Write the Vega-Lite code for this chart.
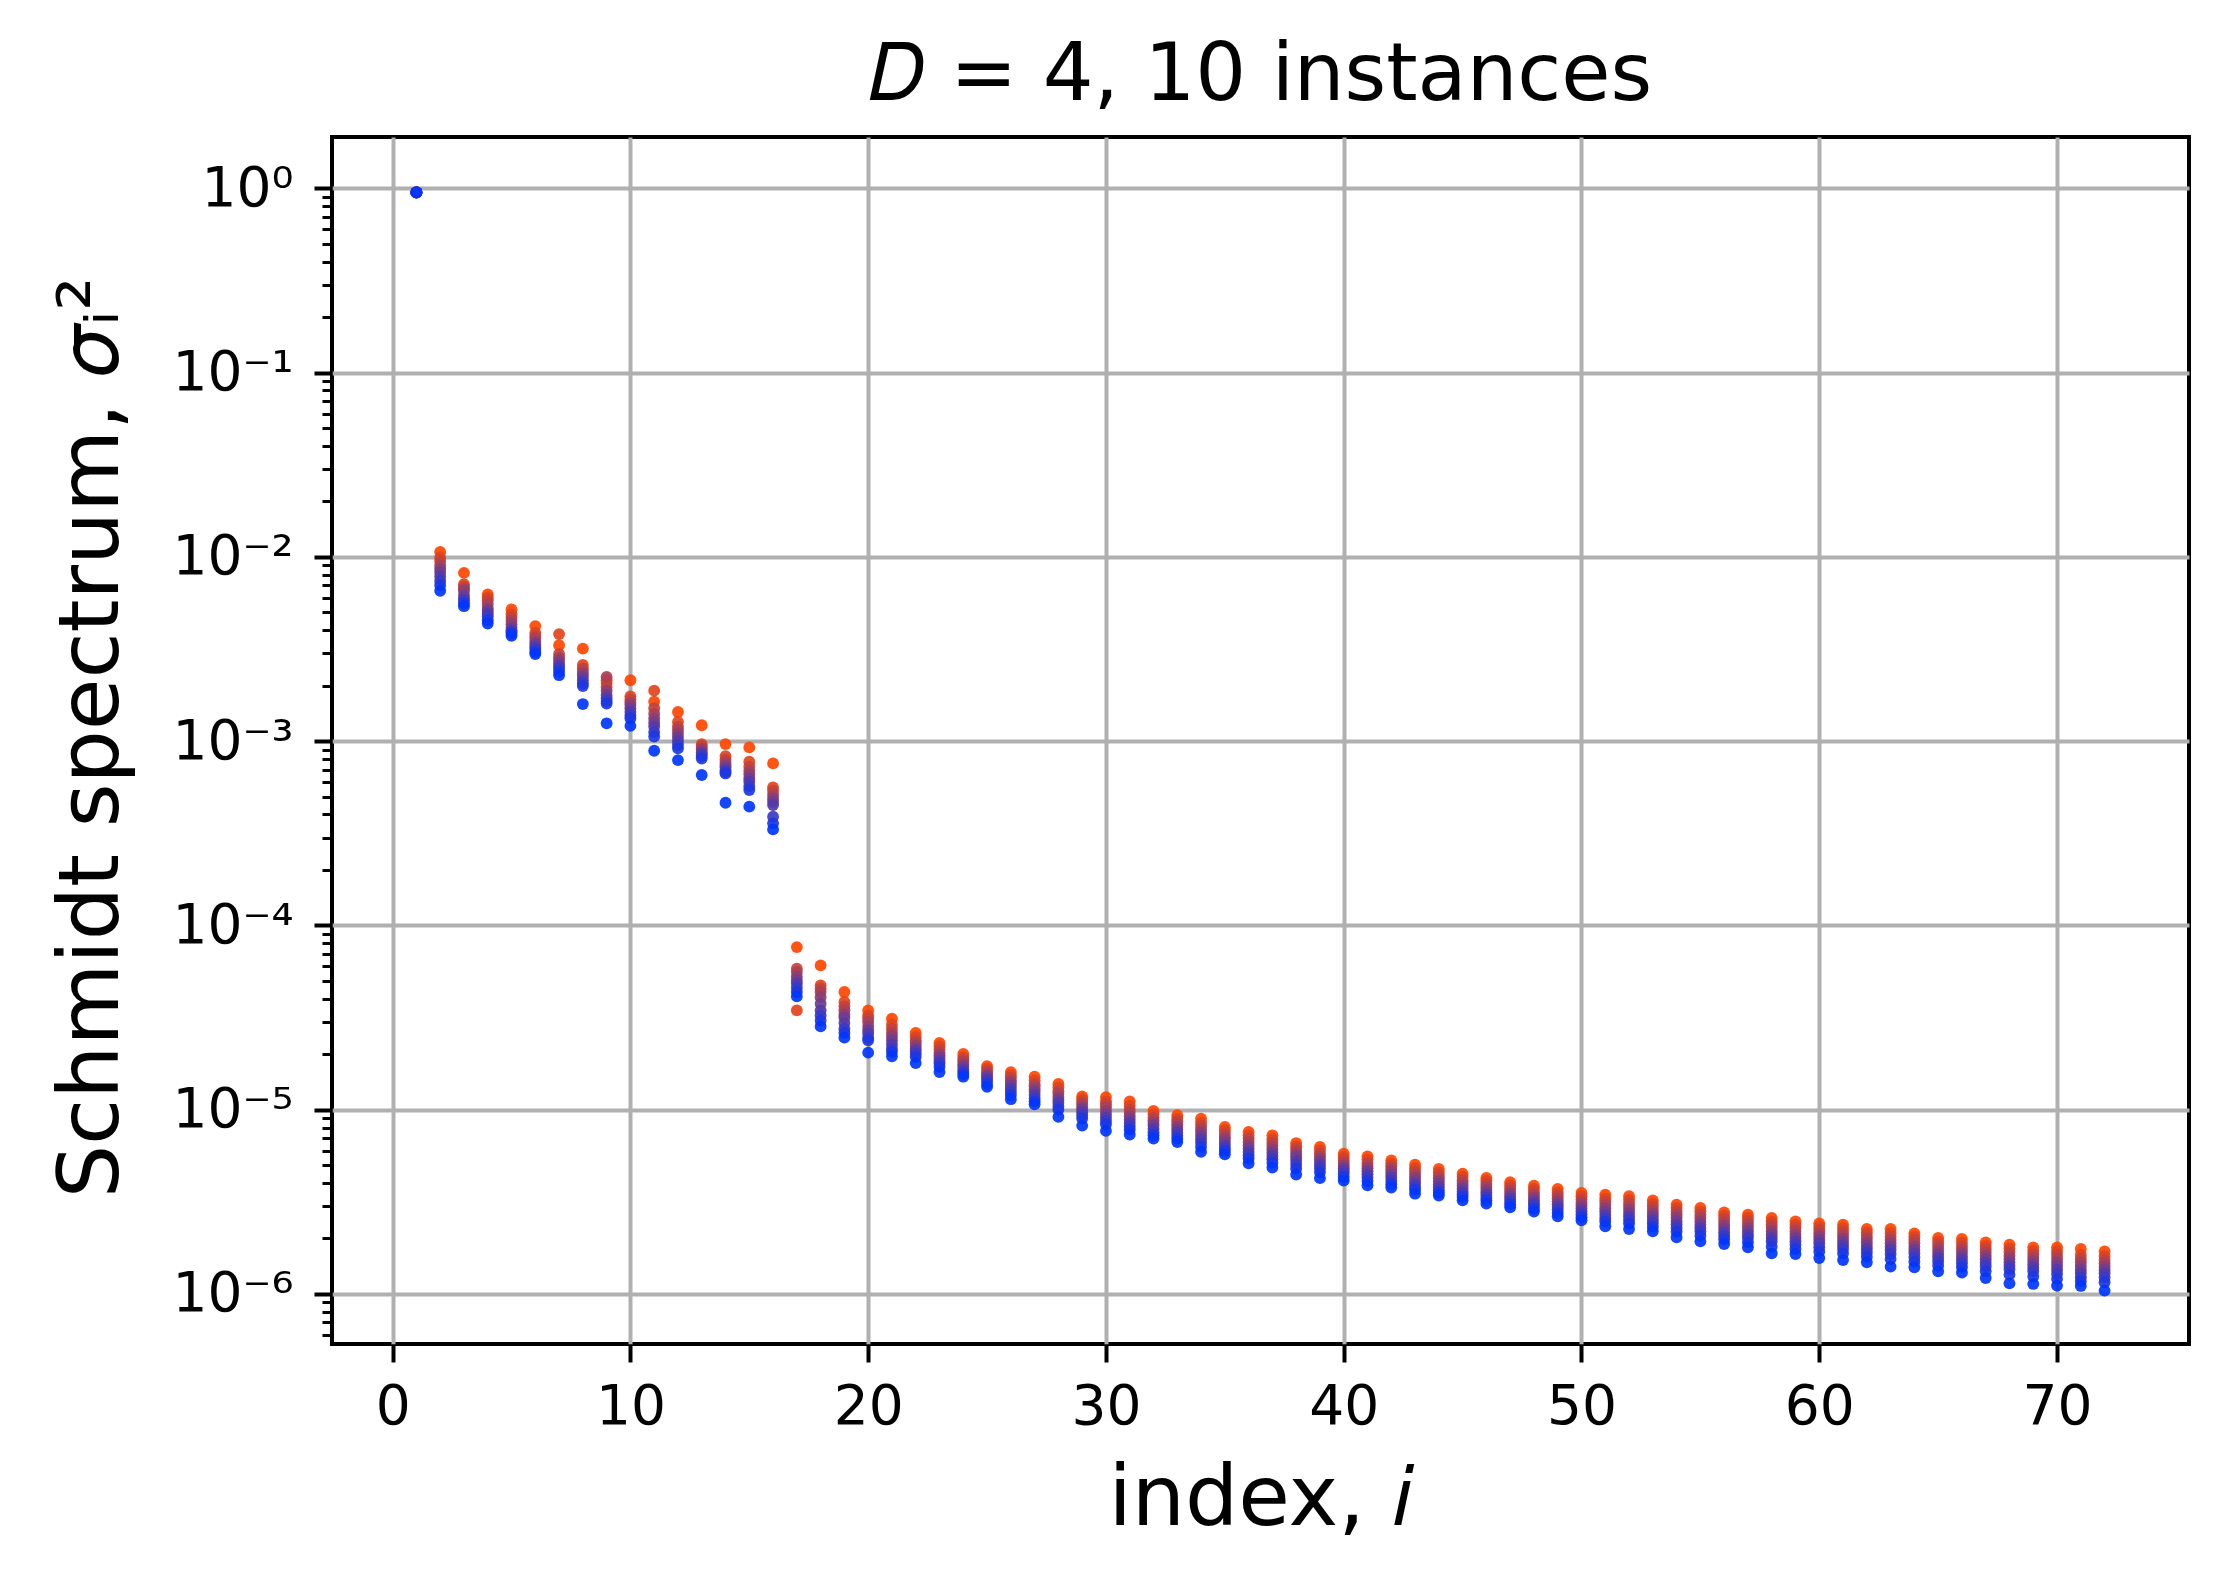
{
"$schema": "https://vega.github.io/schema/vega-lite/v6.json",
"width": 1857, "height": 1207,
"autosize": {"type": "none"},
"padding": {"left": 332, "top": 137, "right": 43, "bottom": 237},
"background": "white",
"title": {"text": "𝐷 = 4, 10 instances", "font": "DejaVu Sans", "fontSize": 80, "fontWeight": "normal", "color": "black", "anchor": "middle", "baseline": "alphabetic", "offset": -43},
"config": {
  "view": {"stroke": "black", "strokeWidth": 4},
  "axis": {"labelFont": "DejaVu Sans", "titleFont": "DejaVu Sans", "labelColor": "black", "titleColor": "black", "tickColor": "black", "titleFontWeight": "normal"}
},
"data": {"values": [
{"i":1,"k":0,"v":0.953},{"i":1,"k":1,"v":0.952},{"i":1,"k":2,"v":0.951},{"i":1,"k":3,"v":0.952},{"i":1,"k":4,"v":0.950},{"i":1,"k":5,"v":0.951},{"i":1,"k":6,"v":0.953},{"i":1,"k":7,"v":0.951},{"i":1,"k":8,"v":0.950},{"i":1,"k":9,"v":0.951},
{"i":2,"k":0,"v":1.064e-2},{"i":2,"k":1,"v":9.92e-3},{"i":2,"k":2,"v":9.51e-3},{"i":2,"k":3,"v":9.01e-3},{"i":2,"k":4,"v":8.64e-3},{"i":2,"k":5,"v":8.29e-3},{"i":2,"k":6,"v":7.86e-3},{"i":2,"k":7,"v":7.41e-3},{"i":2,"k":8,"v":7.02e-3},{"i":2,"k":9,"v":6.54e-3},
{"i":3,"k":0,"v":8.19e-3},{"i":3,"k":1,"v":7.11e-3},{"i":3,"k":2,"v":6.88e-3},{"i":3,"k":3,"v":6.71e-3},{"i":3,"k":4,"v":6.54e-3},{"i":3,"k":5,"v":6.20e-3},{"i":3,"k":6,"v":5.94e-3},{"i":3,"k":7,"v":5.77e-3},{"i":3,"k":8,"v":5.58e-3},{"i":3,"k":9,"v":5.40e-3},
{"i":4,"k":0,"v":6.25e-3},{"i":4,"k":1,"v":6.02e-3},{"i":4,"k":2,"v":5.82e-3},{"i":4,"k":3,"v":5.54e-3},{"i":4,"k":4,"v":5.25e-3},{"i":4,"k":5,"v":5.10e-3},{"i":4,"k":6,"v":4.93e-3},{"i":4,"k":7,"v":4.77e-3},{"i":4,"k":8,"v":4.53e-3},{"i":4,"k":9,"v":4.35e-3},
{"i":5,"k":0,"v":5.18e-3},{"i":5,"k":1,"v":4.89e-3},{"i":5,"k":2,"v":4.69e-3},{"i":5,"k":3,"v":4.50e-3},{"i":5,"k":4,"v":4.31e-3},{"i":5,"k":5,"v":4.12e-3},{"i":5,"k":6,"v":4.00e-3},{"i":5,"k":7,"v":3.92e-3},{"i":5,"k":8,"v":3.84e-3},{"i":5,"k":9,"v":3.73e-3},
{"i":6,"k":0,"v":4.21e-3},{"i":6,"k":1,"v":3.87e-3},{"i":6,"k":2,"v":3.72e-3},{"i":6,"k":3,"v":3.61e-3},{"i":6,"k":4,"v":3.46e-3},{"i":6,"k":5,"v":3.36e-3},{"i":6,"k":6,"v":3.25e-3},{"i":6,"k":7,"v":3.16e-3},{"i":6,"k":8,"v":3.05e-3},{"i":6,"k":9,"v":2.97e-3},
{"i":7,"k":0,"v":3.32e-3},{"i":7,"k":1,"v":3.81e-3},{"i":7,"k":2,"v":2.97e-3},{"i":7,"k":3,"v":2.84e-3},{"i":7,"k":4,"v":2.75e-3},{"i":7,"k":5,"v":2.64e-3},{"i":7,"k":6,"v":2.56e-3},{"i":7,"k":7,"v":2.48e-3},{"i":7,"k":8,"v":2.38e-3},{"i":7,"k":9,"v":2.28e-3},
{"i":8,"k":0,"v":3.18e-3},{"i":8,"k":1,"v":2.59e-3},{"i":8,"k":2,"v":2.48e-3},{"i":8,"k":3,"v":2.38e-3},{"i":8,"k":4,"v":2.31e-3},{"i":8,"k":5,"v":2.23e-3},{"i":8,"k":6,"v":2.14e-3},{"i":8,"k":7,"v":2.06e-3},{"i":8,"k":8,"v":1.99e-3},{"i":8,"k":9,"v":1.59e-3},
{"i":9,"k":0,"v":2.07e-3},{"i":9,"k":1,"v":2.14e-3},{"i":9,"k":2,"v":1.97e-3},{"i":9,"k":3,"v":2.23e-3},{"i":9,"k":4,"v":1.88e-3},{"i":9,"k":5,"v":1.78e-3},{"i":9,"k":6,"v":1.71e-3},{"i":9,"k":7,"v":1.65e-3},{"i":9,"k":8,"v":1.60e-3},{"i":9,"k":9,"v":1.25e-3},
{"i":10,"k":0,"v":2.14e-3},{"i":10,"k":1,"v":1.75e-3},{"i":10,"k":2,"v":1.68e-3},{"i":10,"k":3,"v":1.62e-3},{"i":10,"k":4,"v":1.57e-3},{"i":10,"k":5,"v":1.51e-3},{"i":10,"k":6,"v":1.44e-3},{"i":10,"k":7,"v":1.38e-3},{"i":10,"k":8,"v":1.33e-3},{"i":10,"k":9,"v":1.21e-3},
{"i":11,"k":0,"v":1.64e-3},{"i":11,"k":1,"v":1.88e-3},{"i":11,"k":2,"v":1.51e-3},{"i":11,"k":3,"v":1.41e-3},{"i":11,"k":4,"v":1.33e-3},{"i":11,"k":5,"v":1.26e-3},{"i":11,"k":6,"v":1.20e-3},{"i":11,"k":7,"v":1.12e-3},{"i":11,"k":8,"v":1.06e-3},{"i":11,"k":9,"v":8.87e-4},
{"i":12,"k":0,"v":1.44e-3},{"i":12,"k":1,"v":1.27e-3},{"i":12,"k":2,"v":1.20e-3},{"i":12,"k":3,"v":1.15e-3},{"i":12,"k":4,"v":1.10e-3},{"i":12,"k":5,"v":1.05e-3},{"i":12,"k":6,"v":1.00e-3},{"i":12,"k":7,"v":9.53e-4},{"i":12,"k":8,"v":9.14e-4},{"i":12,"k":9,"v":7.89e-4},
{"i":13,"k":0,"v":1.22e-3},{"i":13,"k":1,"v":9.64e-4},{"i":13,"k":2,"v":9.40e-4},{"i":13,"k":3,"v":9.14e-4},{"i":13,"k":4,"v":8.95e-4},{"i":13,"k":5,"v":8.69e-4},{"i":13,"k":6,"v":8.51e-4},{"i":13,"k":7,"v":8.30e-4},{"i":13,"k":8,"v":8.05e-4},{"i":13,"k":9,"v":6.55e-4},
{"i":14,"k":0,"v":9.64e-4},{"i":14,"k":1,"v":8.30e-4},{"i":14,"k":2,"v":7.96e-4},{"i":14,"k":3,"v":7.67e-4},{"i":14,"k":4,"v":7.41e-4},{"i":14,"k":5,"v":7.21e-4},{"i":14,"k":6,"v":6.97e-4},{"i":14,"k":7,"v":6.82e-4},{"i":14,"k":8,"v":6.68e-4},{"i":14,"k":9,"v":4.63e-4},
{"i":15,"k":0,"v":9.25e-4},{"i":15,"k":1,"v":7.73e-4},{"i":15,"k":2,"v":7.26e-4},{"i":15,"k":3,"v":6.90e-4},{"i":15,"k":4,"v":6.62e-4},{"i":15,"k":5,"v":6.28e-4},{"i":15,"k":6,"v":6.03e-4},{"i":15,"k":7,"v":5.70e-4},{"i":15,"k":8,"v":5.43e-4},{"i":15,"k":9,"v":4.41e-4},
{"i":16,"k":0,"v":7.57e-4},{"i":16,"k":1,"v":5.61e-4},{"i":16,"k":2,"v":5.38e-4},{"i":16,"k":3,"v":5.11e-4},{"i":16,"k":4,"v":4.89e-4},{"i":16,"k":5,"v":4.69e-4},{"i":16,"k":6,"v":4.50e-4},{"i":16,"k":7,"v":3.89e-4},{"i":16,"k":8,"v":3.58e-4},{"i":16,"k":9,"v":3.32e-4},
{"i":17,"k":0,"v":7.63e-5},{"i":17,"k":1,"v":3.46e-5},{"i":17,"k":2,"v":5.82e-5},{"i":17,"k":3,"v":5.58e-5},{"i":17,"k":4,"v":5.29e-5},{"i":17,"k":5,"v":5.03e-5},{"i":17,"k":6,"v":4.83e-5},{"i":17,"k":7,"v":4.59e-5},{"i":17,"k":8,"v":4.35e-5},{"i":17,"k":9,"v":4.12e-5},
{"i":18,"k":0,"v":6.07e-5},{"i":18,"k":1,"v":4.73e-5},{"i":18,"k":2,"v":4.54e-5},{"i":18,"k":3,"v":4.35e-5},{"i":18,"k":4,"v":4.08e-5},{"i":18,"k":5,"v":3.76e-5},{"i":18,"k":6,"v":3.46e-5},{"i":18,"k":7,"v":3.25e-5},{"i":18,"k":8,"v":3.05e-5},{"i":18,"k":9,"v":2.83e-5},
{"i":19,"k":0,"v":4.35e-5},{"i":19,"k":1,"v":3.84e-5},{"i":19,"k":2,"v":3.64e-5},{"i":19,"k":3,"v":3.46e-5},{"i":19,"k":4,"v":3.29e-5},{"i":19,"k":5,"v":3.16e-5},{"i":19,"k":6,"v":2.95e-5},{"i":19,"k":7,"v":2.75e-5},{"i":19,"k":8,"v":2.61e-5},{"i":19,"k":9,"v":2.46e-5},
{"i":20,"k":0,"v":3.46e-5},{"i":20,"k":1,"v":3.25e-5},{"i":20,"k":2,"v":3.12e-5},{"i":20,"k":3,"v":2.99e-5},{"i":20,"k":4,"v":2.83e-5},{"i":20,"k":5,"v":2.70e-5},{"i":20,"k":6,"v":2.59e-5},{"i":20,"k":7,"v":2.46e-5},{"i":20,"k":8,"v":2.38e-5},{"i":20,"k":9,"v":2.04e-5},
{"i":21,"k":0,"v":3.12e-5},{"i":21,"k":1,"v":2.90e-5},{"i":21,"k":2,"v":2.75e-5},{"i":21,"k":3,"v":2.61e-5},{"i":21,"k":4,"v":2.50e-5},{"i":21,"k":5,"v":2.38e-5},{"i":21,"k":6,"v":2.26e-5},{"i":21,"k":7,"v":2.14e-5},{"i":21,"k":8,"v":2.06e-5},{"i":21,"k":9,"v":1.95e-5},
{"i":22,"k":0,"v":2.61e-5},{"i":22,"k":1,"v":2.48e-5},{"i":22,"k":2,"v":2.38e-5},{"i":22,"k":3,"v":2.30e-5},{"i":22,"k":4,"v":2.22e-5},{"i":22,"k":5,"v":2.14e-5},{"i":22,"k":6,"v":2.08e-5},{"i":22,"k":7,"v":2.01e-5},{"i":22,"k":8,"v":1.93e-5},{"i":22,"k":9,"v":1.79e-5},
{"i":23,"k":0,"v":2.30e-5},{"i":23,"k":1,"v":2.21e-5},{"i":23,"k":2,"v":2.12e-5},{"i":23,"k":3,"v":2.03e-5},{"i":23,"k":4,"v":1.97e-5},{"i":23,"k":5,"v":1.91e-5},{"i":23,"k":6,"v":1.84e-5},{"i":23,"k":7,"v":1.78e-5},{"i":23,"k":8,"v":1.71e-5},{"i":23,"k":9,"v":1.60e-5},
{"i":24,"k":0,"v":2.01e-5},{"i":24,"k":1,"v":1.93e-5},{"i":24,"k":2,"v":1.87e-5},{"i":24,"k":3,"v":1.82e-5},{"i":24,"k":4,"v":1.76e-5},{"i":24,"k":5,"v":1.71e-5},{"i":24,"k":6,"v":1.65e-5},{"i":24,"k":7,"v":1.60e-5},{"i":24,"k":8,"v":1.56e-5},{"i":24,"k":9,"v":1.51e-5},
{"i":25,"k":0,"v":1.72e-5},{"i":25,"k":1,"v":1.67e-5},{"i":25,"k":2,"v":1.62e-5},{"i":25,"k":3,"v":1.58e-5},{"i":25,"k":4,"v":1.54e-5},{"i":25,"k":5,"v":1.51e-5},{"i":25,"k":6,"v":1.47e-5},{"i":25,"k":7,"v":1.43e-5},{"i":25,"k":8,"v":1.38e-5},{"i":25,"k":9,"v":1.33e-5},
{"i":26,"k":0,"v":1.60e-5},{"i":26,"k":1,"v":1.54e-5},{"i":26,"k":2,"v":1.49e-5},{"i":26,"k":3,"v":1.44e-5},{"i":26,"k":4,"v":1.40e-5},{"i":26,"k":5,"v":1.35e-5},{"i":26,"k":6,"v":1.30e-5},{"i":26,"k":7,"v":1.25e-5},{"i":26,"k":8,"v":1.20e-5},{"i":26,"k":9,"v":1.14e-5},
{"i":27,"k":0,"v":1.51e-5},{"i":27,"k":1,"v":1.44e-5},{"i":27,"k":2,"v":1.38e-5},{"i":27,"k":3,"v":1.34e-5},{"i":27,"k":4,"v":1.29e-5},{"i":27,"k":5,"v":1.25e-5},{"i":27,"k":6,"v":1.20e-5},{"i":27,"k":7,"v":1.15e-5},{"i":27,"k":8,"v":1.11e-5},{"i":27,"k":9,"v":1.07e-5},
{"i":28,"k":0,"v":1.38e-5},{"i":28,"k":1,"v":1.32e-5},{"i":28,"k":2,"v":1.26e-5},{"i":28,"k":3,"v":1.22e-5},{"i":28,"k":4,"v":1.17e-5},{"i":28,"k":5,"v":1.13e-5},{"i":28,"k":6,"v":1.09e-5},{"i":28,"k":7,"v":1.04e-5},{"i":28,"k":8,"v":1.00e-5},{"i":28,"k":9,"v":9.14e-6},
{"i":29,"k":0,"v":1.18e-5},{"i":29,"k":1,"v":1.14e-5},{"i":29,"k":2,"v":1.10e-5},{"i":29,"k":3,"v":1.07e-5},{"i":29,"k":4,"v":1.03e-5},{"i":29,"k":5,"v":1.00e-5},{"i":29,"k":6,"v":9.68e-6},{"i":29,"k":7,"v":9.33e-6},{"i":29,"k":8,"v":8.95e-6},{"i":29,"k":9,"v":8.20e-6},
{"i":30,"k":0,"v":1.17e-5},{"i":30,"k":1,"v":1.11e-5},{"i":30,"k":2,"v":1.07e-5},{"i":30,"k":3,"v":1.03e-5},{"i":30,"k":4,"v":9.84e-6},{"i":30,"k":5,"v":9.44e-6},{"i":30,"k":6,"v":9.06e-6},{"i":30,"k":7,"v":8.69e-6},{"i":30,"k":8,"v":8.34e-6},{"i":30,"k":9,"v":7.67e-6},
{"i":31,"k":0,"v":1.11e-5},{"i":31,"k":1,"v":1.05e-5},{"i":31,"k":2,"v":1.00e-5},{"i":31,"k":3,"v":9.59e-6},{"i":31,"k":4,"v":9.20e-6},{"i":31,"k":5,"v":8.83e-6},{"i":31,"k":6,"v":8.47e-6},{"i":31,"k":7,"v":8.13e-6},{"i":31,"k":8,"v":7.80e-6},{"i":31,"k":9,"v":7.33e-6},
{"i":32,"k":0,"v":9.84e-6},{"i":32,"k":1,"v":9.44e-6},{"i":32,"k":2,"v":9.06e-6},{"i":32,"k":3,"v":8.77e-6},{"i":32,"k":4,"v":8.47e-6},{"i":32,"k":5,"v":8.20e-6},{"i":32,"k":6,"v":7.87e-6},{"i":32,"k":7,"v":7.55e-6},{"i":32,"k":8,"v":7.26e-6},{"i":32,"k":9,"v":6.97e-6},
{"i":33,"k":0,"v":9.33e-6},{"i":33,"k":1,"v":8.95e-6},{"i":33,"k":2,"v":8.65e-6},{"i":33,"k":3,"v":8.34e-6},{"i":33,"k":4,"v":8.05e-6},{"i":33,"k":5,"v":7.80e-6},{"i":33,"k":6,"v":7.52e-6},{"i":33,"k":7,"v":7.23e-6},{"i":33,"k":8,"v":6.97e-6},{"i":33,"k":9,"v":6.68e-6},
{"i":34,"k":0,"v":8.95e-6},{"i":34,"k":1,"v":8.51e-6},{"i":34,"k":2,"v":8.17e-6},{"i":34,"k":3,"v":7.83e-6},{"i":34,"k":4,"v":7.52e-6},{"i":34,"k":5,"v":7.21e-6},{"i":34,"k":6,"v":6.92e-6},{"i":34,"k":7,"v":6.61e-6},{"i":34,"k":8,"v":6.28e-6},{"i":34,"k":9,"v":5.90e-6},
{"i":35,"k":0,"v":8.05e-6},{"i":35,"k":1,"v":7.73e-6},{"i":35,"k":2,"v":7.41e-6},{"i":35,"k":3,"v":7.11e-6},{"i":35,"k":4,"v":6.89e-6},{"i":35,"k":5,"v":6.62e-6},{"i":35,"k":6,"v":6.38e-6},{"i":35,"k":7,"v":6.15e-6},{"i":35,"k":8,"v":5.97e-6},{"i":35,"k":9,"v":5.73e-6},
{"i":36,"k":0,"v":7.57e-6},{"i":36,"k":1,"v":7.26e-6},{"i":36,"k":2,"v":6.97e-6},{"i":36,"k":3,"v":6.68e-6},{"i":36,"k":4,"v":6.41e-6},{"i":36,"k":5,"v":6.15e-6},{"i":36,"k":6,"v":5.90e-6},{"i":36,"k":7,"v":5.66e-6},{"i":36,"k":8,"v":5.43e-6},{"i":36,"k":9,"v":5.11e-6},
{"i":37,"k":0,"v":7.26e-6},{"i":37,"k":1,"v":6.92e-6},{"i":37,"k":2,"v":6.62e-6},{"i":37,"k":3,"v":6.35e-6},{"i":37,"k":4,"v":6.10e-6},{"i":37,"k":5,"v":5.85e-6},{"i":37,"k":6,"v":5.61e-6},{"i":37,"k":7,"v":5.38e-6},{"i":37,"k":8,"v":5.14e-6},{"i":37,"k":9,"v":4.85e-6},
{"i":38,"k":0,"v":6.59e-6},{"i":38,"k":1,"v":6.33e-6},{"i":38,"k":2,"v":6.12e-6},{"i":38,"k":3,"v":5.92e-6},{"i":38,"k":4,"v":5.70e-6},{"i":38,"k":5,"v":5.50e-6},{"i":38,"k":6,"v":5.27e-6},{"i":38,"k":7,"v":5.03e-6},{"i":38,"k":8,"v":4.79e-6},{"i":38,"k":9,"v":4.45e-6},
{"i":39,"k":0,"v":6.27e-6},{"i":39,"k":1,"v":6.02e-6},{"i":39,"k":2,"v":5.77e-6},{"i":39,"k":3,"v":5.58e-6},{"i":39,"k":4,"v":5.40e-6},{"i":39,"k":5,"v":5.22e-6},{"i":39,"k":6,"v":5.01e-6},{"i":39,"k":7,"v":4.81e-6},{"i":39,"k":8,"v":4.57e-6},{"i":39,"k":9,"v":4.25e-6},
{"i":40,"k":0,"v":5.77e-6},{"i":40,"k":1,"v":5.54e-6},{"i":40,"k":2,"v":5.33e-6},{"i":40,"k":3,"v":5.14e-6},{"i":40,"k":4,"v":4.97e-6},{"i":40,"k":5,"v":4.81e-6},{"i":40,"k":6,"v":4.65e-6},{"i":40,"k":7,"v":4.50e-6},{"i":40,"k":8,"v":4.31e-6},{"i":40,"k":9,"v":4.12e-6},
{"i":41,"k":0,"v":5.58e-6},{"i":41,"k":1,"v":5.36e-6},{"i":41,"k":2,"v":5.14e-6},{"i":41,"k":3,"v":4.97e-6},{"i":41,"k":4,"v":4.81e-6},{"i":41,"k":5,"v":4.63e-6},{"i":41,"k":6,"v":4.46e-6},{"i":41,"k":7,"v":4.28e-6},{"i":41,"k":8,"v":4.10e-6},{"i":41,"k":9,"v":3.89e-6},
{"i":42,"k":0,"v":5.31e-6},{"i":42,"k":1,"v":5.10e-6},{"i":42,"k":2,"v":4.93e-6},{"i":42,"k":3,"v":4.77e-6},{"i":42,"k":4,"v":4.61e-6},{"i":42,"k":5,"v":4.44e-6},{"i":42,"k":6,"v":4.28e-6},{"i":42,"k":7,"v":4.10e-6},{"i":42,"k":8,"v":3.94e-6},{"i":42,"k":9,"v":3.78e-6},
{"i":43,"k":0,"v":5.03e-6},{"i":43,"k":1,"v":4.81e-6},{"i":43,"k":2,"v":4.61e-6},{"i":43,"k":3,"v":4.44e-6},{"i":43,"k":4,"v":4.28e-6},{"i":43,"k":5,"v":4.12e-6},{"i":43,"k":6,"v":3.97e-6},{"i":43,"k":7,"v":3.82e-6},{"i":43,"k":8,"v":3.68e-6},{"i":43,"k":9,"v":3.50e-6},
{"i":44,"k":0,"v":4.77e-6},{"i":44,"k":1,"v":4.57e-6},{"i":44,"k":2,"v":4.40e-6},{"i":44,"k":3,"v":4.24e-6},{"i":44,"k":4,"v":4.09e-6},{"i":44,"k":5,"v":3.94e-6},{"i":44,"k":6,"v":3.79e-6},{"i":44,"k":7,"v":3.65e-6},{"i":44,"k":8,"v":3.53e-6},{"i":44,"k":9,"v":3.42e-6},
{"i":45,"k":0,"v":4.50e-6},{"i":45,"k":1,"v":4.31e-6},{"i":45,"k":2,"v":4.14e-6},{"i":45,"k":3,"v":4.00e-6},{"i":45,"k":4,"v":3.87e-6},{"i":45,"k":5,"v":3.73e-6},{"i":45,"k":6,"v":3.59e-6},{"i":45,"k":7,"v":3.48e-6},{"i":45,"k":8,"v":3.36e-6},{"i":45,"k":9,"v":3.22e-6},
{"i":46,"k":0,"v":4.26e-6},{"i":46,"k":1,"v":4.10e-6},{"i":46,"k":2,"v":3.95e-6},{"i":46,"k":3,"v":3.81e-6},{"i":46,"k":4,"v":3.68e-6},{"i":46,"k":5,"v":3.56e-6},{"i":46,"k":6,"v":3.45e-6},{"i":46,"k":7,"v":3.33e-6},{"i":46,"k":8,"v":3.22e-6},{"i":46,"k":9,"v":3.09e-6},
{"i":47,"k":0,"v":4.04e-6},{"i":47,"k":1,"v":3.89e-6},{"i":47,"k":2,"v":3.75e-6},{"i":47,"k":3,"v":3.62e-6},{"i":47,"k":4,"v":3.50e-6},{"i":47,"k":5,"v":3.39e-6},{"i":47,"k":6,"v":3.28e-6},{"i":47,"k":7,"v":3.17e-6},{"i":47,"k":8,"v":3.07e-6},{"i":47,"k":9,"v":2.95e-6},
{"i":48,"k":0,"v":3.87e-6},{"i":48,"k":1,"v":3.72e-6},{"i":48,"k":2,"v":3.58e-6},{"i":48,"k":3,"v":3.45e-6},{"i":48,"k":4,"v":3.33e-6},{"i":48,"k":5,"v":3.22e-6},{"i":48,"k":6,"v":3.12e-6},{"i":48,"k":7,"v":3.02e-6},{"i":48,"k":8,"v":2.90e-6},{"i":48,"k":9,"v":2.80e-6},
{"i":49,"k":0,"v":3.72e-6},{"i":49,"k":1,"v":3.56e-6},{"i":49,"k":2,"v":3.43e-6},{"i":49,"k":3,"v":3.30e-6},{"i":49,"k":4,"v":3.18e-6},{"i":49,"k":5,"v":3.07e-6},{"i":49,"k":6,"v":2.97e-6},{"i":49,"k":7,"v":2.87e-6},{"i":49,"k":8,"v":2.75e-6},{"i":49,"k":9,"v":2.64e-6},
{"i":50,"k":0,"v":3.53e-6},{"i":50,"k":1,"v":3.39e-6},{"i":50,"k":2,"v":3.26e-6},{"i":50,"k":3,"v":3.14e-6},{"i":50,"k":4,"v":3.03e-6},{"i":50,"k":5,"v":2.92e-6},{"i":50,"k":6,"v":2.81e-6},{"i":50,"k":7,"v":2.71e-6},{"i":50,"k":8,"v":2.61e-6},{"i":50,"k":9,"v":2.51e-6},
{"i":51,"k":0,"v":3.46e-6},{"i":51,"k":1,"v":3.30e-6},{"i":51,"k":2,"v":3.17e-6},{"i":51,"k":3,"v":3.04e-6},{"i":51,"k":4,"v":2.92e-6},{"i":51,"k":5,"v":2.80e-6},{"i":51,"k":6,"v":2.68e-6},{"i":51,"k":7,"v":2.57e-6},{"i":51,"k":8,"v":2.47e-6},{"i":51,"k":9,"v":2.33e-6},
{"i":52,"k":0,"v":3.39e-6},{"i":52,"k":1,"v":3.24e-6},{"i":52,"k":2,"v":3.10e-6},{"i":52,"k":3,"v":2.98e-6},{"i":52,"k":4,"v":2.86e-6},{"i":52,"k":5,"v":2.74e-6},{"i":52,"k":6,"v":2.63e-6},{"i":52,"k":7,"v":2.52e-6},{"i":52,"k":8,"v":2.41e-6},{"i":52,"k":9,"v":2.25e-6},
{"i":53,"k":0,"v":3.22e-6},{"i":53,"k":1,"v":3.09e-6},{"i":53,"k":2,"v":2.97e-6},{"i":53,"k":3,"v":2.84e-6},{"i":53,"k":4,"v":2.73e-6},{"i":53,"k":5,"v":2.63e-6},{"i":53,"k":6,"v":2.52e-6},{"i":53,"k":7,"v":2.42e-6},{"i":53,"k":8,"v":2.31e-6},{"i":53,"k":9,"v":2.19e-6},
{"i":54,"k":0,"v":3.05e-6},{"i":54,"k":1,"v":2.93e-6},{"i":54,"k":2,"v":2.81e-6},{"i":54,"k":3,"v":2.70e-6},{"i":54,"k":4,"v":2.59e-6},{"i":54,"k":5,"v":2.48e-6},{"i":54,"k":6,"v":2.38e-6},{"i":54,"k":7,"v":2.28e-6},{"i":54,"k":8,"v":2.18e-6},{"i":54,"k":9,"v":2.03e-6},
{"i":55,"k":0,"v":2.927e-6},{"i":55,"k":1,"v":2.807e-6},{"i":55,"k":2,"v":2.693e-6},{"i":55,"k":3,"v":2.583e-6},{"i":55,"k":4,"v":2.478e-6},{"i":55,"k":5,"v":2.377e-6},{"i":55,"k":6,"v":2.280e-6},{"i":55,"k":7,"v":2.187e-6},{"i":55,"k":8,"v":2.072e-6},{"i":55,"k":9,"v":1.930e-6},
{"i":56,"k":0,"v":2.773e-6},{"i":56,"k":1,"v":2.660e-6},{"i":56,"k":2,"v":2.551e-6},{"i":56,"k":3,"v":2.447e-6},{"i":56,"k":4,"v":2.348e-6},{"i":56,"k":5,"v":2.252e-6},{"i":56,"k":6,"v":2.160e-6},{"i":56,"k":7,"v":2.072e-6},{"i":56,"k":8,"v":1.980e-6},{"i":56,"k":9,"v":1.867e-6},
{"i":57,"k":0,"v":2.693e-6},{"i":57,"k":1,"v":2.583e-6},{"i":57,"k":2,"v":2.478e-6},{"i":57,"k":3,"v":2.377e-6},{"i":57,"k":4,"v":2.280e-6},{"i":57,"k":5,"v":2.187e-6},{"i":57,"k":6,"v":2.098e-6},{"i":57,"k":7,"v":2.012e-6},{"i":57,"k":8,"v":1.906e-6},{"i":57,"k":9,"v":1.791e-6},
{"i":58,"k":0,"v":2.583e-6},{"i":58,"k":1,"v":2.478e-6},{"i":58,"k":2,"v":2.377e-6},{"i":58,"k":3,"v":2.280e-6},{"i":58,"k":4,"v":2.187e-6},{"i":58,"k":5,"v":2.098e-6},{"i":58,"k":6,"v":2.012e-6},{"i":58,"k":7,"v":1.930e-6},{"i":58,"k":8,"v":1.806e-6},{"i":58,"k":9,"v":1.662e-6},
{"i":59,"k":0,"v":2.478e-6},{"i":59,"k":1,"v":2.377e-6},{"i":59,"k":2,"v":2.280e-6},{"i":59,"k":3,"v":2.187e-6},{"i":59,"k":4,"v":2.098e-6},{"i":59,"k":5,"v":2.012e-6},{"i":59,"k":6,"v":1.930e-6},{"i":59,"k":7,"v":1.851e-6},{"i":59,"k":8,"v":1.754e-6},{"i":59,"k":9,"v":1.648e-6},
{"i":60,"k":0,"v":2.416e-6},{"i":60,"k":1,"v":2.318e-6},{"i":60,"k":2,"v":2.224e-6},{"i":60,"k":3,"v":2.133e-6},{"i":60,"k":4,"v":2.046e-6},{"i":60,"k":5,"v":1.963e-6},{"i":60,"k":6,"v":1.883e-6},{"i":60,"k":7,"v":1.791e-6},{"i":60,"k":8,"v":1.696e-6},{"i":60,"k":9,"v":1.567e-6},
{"i":61,"k":0,"v":2.377e-6},{"i":61,"k":1,"v":2.270e-6},{"i":61,"k":2,"v":2.169e-6},{"i":61,"k":3,"v":2.080e-6},{"i":61,"k":4,"v":1.996e-6},{"i":61,"k":5,"v":1.914e-6},{"i":61,"k":6,"v":1.836e-6},{"i":61,"k":7,"v":1.754e-6},{"i":61,"k":8,"v":1.662e-6},{"i":61,"k":9,"v":1.529e-6},
{"i":62,"k":0,"v":2.252e-6},{"i":62,"k":1,"v":2.160e-6},{"i":62,"k":2,"v":2.072e-6},{"i":62,"k":3,"v":1.987e-6},{"i":62,"k":4,"v":1.906e-6},{"i":62,"k":5,"v":1.829e-6},{"i":62,"k":6,"v":1.754e-6},{"i":62,"k":7,"v":1.676e-6},{"i":62,"k":8,"v":1.594e-6},{"i":62,"k":9,"v":1.485e-6},
{"i":63,"k":0,"v":2.252e-6},{"i":63,"k":1,"v":2.142e-6},{"i":63,"k":2,"v":2.046e-6},{"i":63,"k":3,"v":1.963e-6},{"i":63,"k":4,"v":1.883e-6},{"i":63,"k":5,"v":1.806e-6},{"i":63,"k":6,"v":1.732e-6},{"i":63,"k":7,"v":1.648e-6},{"i":63,"k":8,"v":1.548e-6},{"i":63,"k":9,"v":1.406e-6},
{"i":64,"k":0,"v":2.133e-6},{"i":64,"k":1,"v":2.046e-6},{"i":64,"k":2,"v":1.963e-6},{"i":64,"k":3,"v":1.883e-6},{"i":64,"k":4,"v":1.806e-6},{"i":64,"k":5,"v":1.732e-6},{"i":64,"k":6,"v":1.662e-6},{"i":64,"k":7,"v":1.580e-6},{"i":64,"k":8,"v":1.497e-6},{"i":64,"k":9,"v":1.395e-6},
{"i":65,"k":0,"v":2.012e-6},{"i":65,"k":1,"v":1.930e-6},{"i":65,"k":2,"v":1.851e-6},{"i":65,"k":3,"v":1.776e-6},{"i":65,"k":4,"v":1.703e-6},{"i":65,"k":5,"v":1.634e-6},{"i":65,"k":6,"v":1.567e-6},{"i":65,"k":7,"v":1.503e-6},{"i":65,"k":8,"v":1.424e-6},{"i":65,"k":9,"v":1.327e-6},
{"i":66,"k":0,"v":1.987e-6},{"i":66,"k":1,"v":1.898e-6},{"i":66,"k":2,"v":1.813e-6},{"i":66,"k":3,"v":1.739e-6},{"i":66,"k":4,"v":1.668e-6},{"i":66,"k":5,"v":1.600e-6},{"i":66,"k":6,"v":1.535e-6},{"i":66,"k":7,"v":1.467e-6},{"i":66,"k":8,"v":1.395e-6},{"i":66,"k":9,"v":1.305e-6},
{"i":67,"k":0,"v":1.906e-6},{"i":67,"k":1,"v":1.821e-6},{"i":67,"k":2,"v":1.747e-6},{"i":67,"k":3,"v":1.676e-6},{"i":67,"k":4,"v":1.607e-6},{"i":67,"k":5,"v":1.542e-6},{"i":67,"k":6,"v":1.479e-6},{"i":67,"k":7,"v":1.413e-6},{"i":67,"k":8,"v":1.327e-6},{"i":67,"k":9,"v":1.221e-6},
{"i":68,"k":0,"v":1.851e-6},{"i":68,"k":1,"v":1.769e-6},{"i":68,"k":2,"v":1.690e-6},{"i":68,"k":3,"v":1.614e-6},{"i":68,"k":4,"v":1.548e-6},{"i":68,"k":5,"v":1.485e-6},{"i":68,"k":6,"v":1.424e-6},{"i":68,"k":7,"v":1.366e-6},{"i":68,"k":8,"v":1.273e-6},{"i":68,"k":9,"v":1.142e-6},
{"i":69,"k":0,"v":1.791e-6},{"i":69,"k":1,"v":1.711e-6},{"i":69,"k":2,"v":1.641e-6},{"i":69,"k":3,"v":1.574e-6},{"i":69,"k":4,"v":1.510e-6},{"i":69,"k":5,"v":1.449e-6},{"i":69,"k":6,"v":1.389e-6},{"i":69,"k":7,"v":1.327e-6},{"i":69,"k":8,"v":1.242e-6},{"i":69,"k":9,"v":1.133e-6},
{"i":70,"k":0,"v":1.791e-6},{"i":70,"k":1,"v":1.703e-6},{"i":70,"k":2,"v":1.627e-6},{"i":70,"k":3,"v":1.554e-6},{"i":70,"k":4,"v":1.485e-6},{"i":70,"k":5,"v":1.419e-6},{"i":70,"k":6,"v":1.355e-6},{"i":70,"k":7,"v":1.284e-6},{"i":70,"k":8,"v":1.206e-6},{"i":70,"k":9,"v":1.110e-6},
{"i":71,"k":0,"v":1.754e-6},{"i":71,"k":1,"v":1.634e-6},{"i":71,"k":2,"v":1.554e-6},{"i":71,"k":3,"v":1.485e-6},{"i":71,"k":4,"v":1.419e-6},{"i":71,"k":5,"v":1.355e-6},{"i":71,"k":6,"v":1.294e-6},{"i":71,"k":7,"v":1.231e-6},{"i":71,"k":8,"v":1.171e-6},{"i":71,"k":9,"v":1.105e-6},
{"i":72,"k":0,"v":1.703e-6},{"i":72,"k":1,"v":1.607e-6},{"i":72,"k":2,"v":1.529e-6},{"i":72,"k":3,"v":1.467e-6},{"i":72,"k":4,"v":1.406e-6},{"i":72,"k":5,"v":1.349e-6},{"i":72,"k":6,"v":1.294e-6},{"i":72,"k":7,"v":1.231e-6},{"i":72,"k":8,"v":1.157e-6},{"i":72,"k":9,"v":1.043e-6}
]},
"layer": [
  {
    "mark": {"type": "point", "opacity": 0},
    "encoding": {
      "y": {"field": "v", "type": "quantitative",
        "scale": {"type": "log", "domain": [5.35e-7, 1.9], "nice": false},
        "axis": {"orient": "left", "values": [6e-7,7e-7,8e-7,9e-7,2e-6,3e-6,4e-6,5e-6,6e-6,7e-6,8e-6,9e-6,2e-5,3e-5,4e-5,5e-5,6e-5,7e-5,8e-5,9e-5,2e-4,3e-4,4e-4,5e-4,6e-4,7e-4,8e-4,9e-4,2e-3,3e-3,4e-3,5e-3,6e-3,7e-3,8e-3,9e-3,0.02,0.03,0.04,0.05,0.06,0.07,0.08,0.09,0.2,0.3,0.4,0.5,0.6,0.7,0.8,0.9],
          "labels": false, "grid": false, "domain": false, "tickSize": 10, "tickWidth": 3, "tickColor": "black", "title": null}}
    }
  },
  {
    "mark": {"type": "circle", "size": 140, "opacity": 0.92},
    "encoding": {
      "x": {"field": "i", "type": "quantitative",
        "scale": {"domain": [-2.55, 75.55], "nice": false, "zero": false},
        "axis": {"values": [0,10,20,30,40,50,60,70], "grid": true, "gridColor": "#b0b0b0", "gridWidth": 4, "domain": false,
          "tickSize": 18, "tickWidth": 4, "labelFontSize": 55, "labelPadding": 18,
          "title": "index, 𝑖", "titleFontSize": 84, "titleBaseline": "alphabetic", "titleY": 180}},
      "y": {"field": "v", "type": "quantitative",
        "scale": {"type": "log", "domain": [5.35e-7, 1.9], "nice": false},
        "axis": {"orient": "left", "values": [1e-6,1e-5,1e-4,1e-3,1e-2,1e-1,1], "grid": true, "gridColor": "#b0b0b0", "gridWidth": 4, "domain": false,
          "tickSize": 18, "tickWidth": 4, "labelFontSize": 55, "labelPadding": 21,
          "labelExpr": "datum.value >= 0.5 ? '10⁰' : datum.value >= 0.05 ? '10⁻¹' : datum.value >= 0.005 ? '10⁻²' : datum.value >= 0.0005 ? '10⁻³' : datum.value >= 0.00005 ? '10⁻⁴' : datum.value >= 0.000005 ? '10⁻⁵' : '10⁻⁶'",
          "title": "Schmidt spectrum, 𝜎ᵢ²", "titleFontSize": 84, "titleBaseline": "alphabetic", "titleAngle": 270, "titleX": -215, "titleY": 600}},
      "color": {"field": "k", "type": "ordinal",
        "scale": {"domain": [0,1,2,3,4,5,6,7,8,9], "range": ["#ff4500","#e3431c","#c64139","#aa4055","#8e3e71","#713c8e","#553aaa","#3939c6","#1c37e3","#0035ff"]},
        "legend": null},
      "order": {"field": "k", "type": "quantitative"}
    }
  }
],
"resolve": {"axis": {"y": "independent"}}
}
